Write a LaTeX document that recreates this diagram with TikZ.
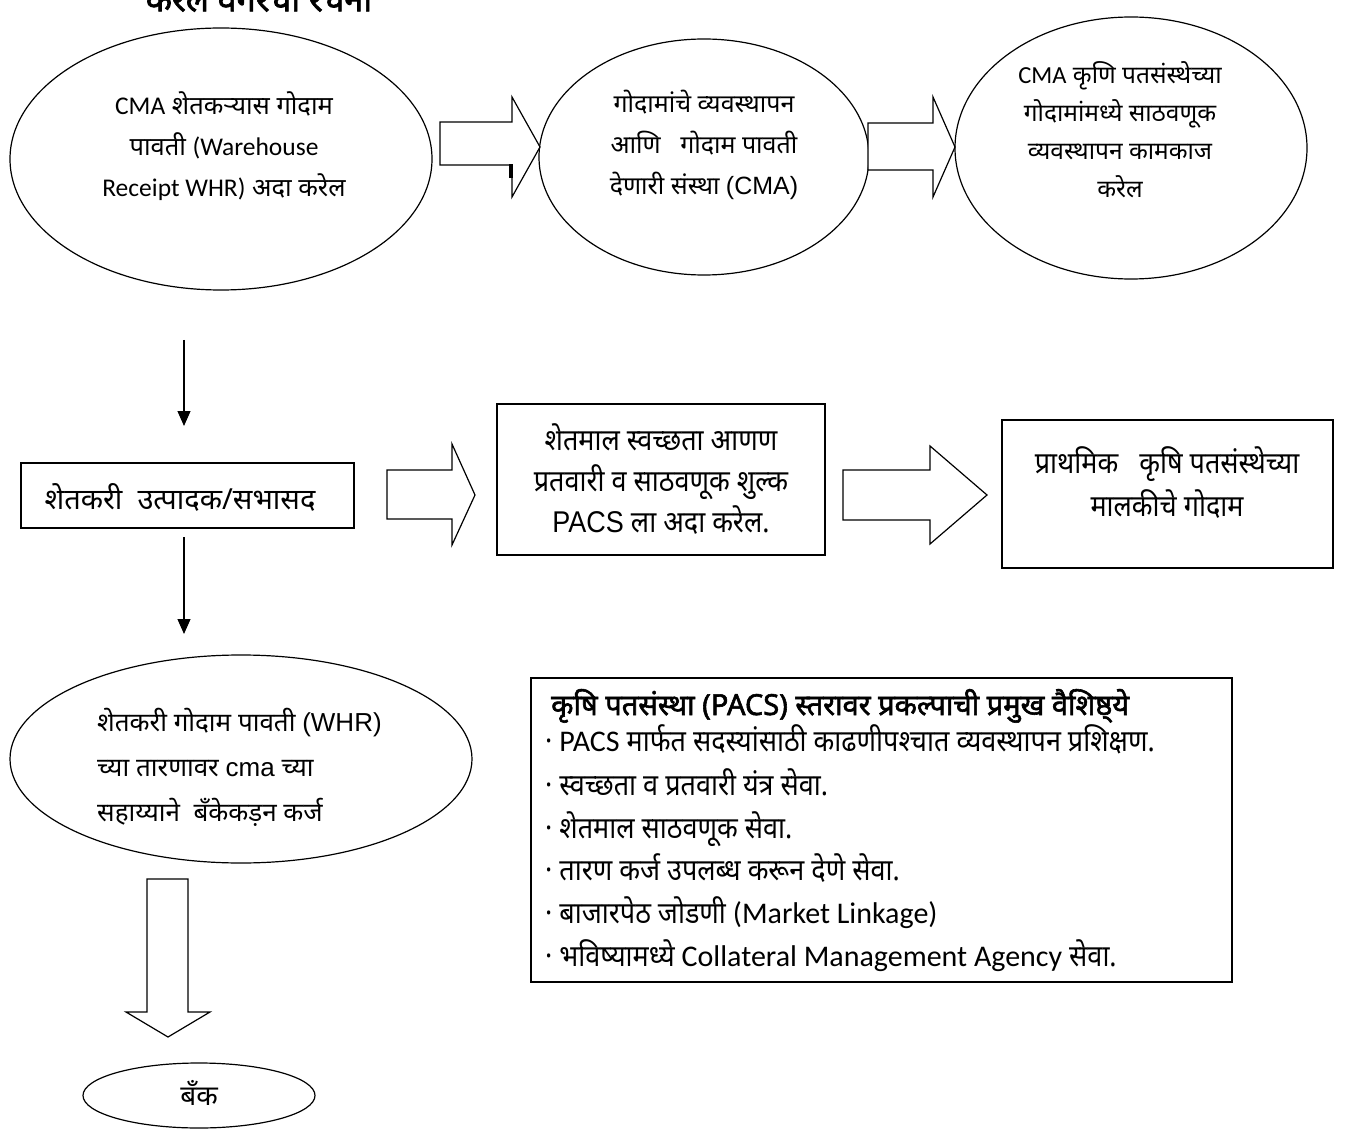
\documentclass[tikz,border=0pt]{standalone}
\usepackage{fontspec}
\usetikzlibrary{arrows.meta,shapes.geometric}
\newfontfamily\devfont[Script=Devanagari]{Noto Sans}
\newfontfamily\devbfont[Script=Devanagari,FakeBold=2]{Noto Sans}
\newfontfamily\devnfont[Script=Devanagari,FakeStretch=0.9]{Noto Sans}
\newfontfamily\calfont{Carlito}
\newfontfamily\arifont{Liberation Sans}
\newfontfamily\arinfont[FakeStretch=0.9]{Liberation Sans}
\begin{document}
\begin{tikzpicture}[x=1pt,y=-1pt,
  ell/.style={draw,ellipse,line width=1.2pt,inner sep=0pt},
  boxn/.style={draw,rectangle,line width=1.2pt,inner sep=0pt},
  blk/.style={draw,line width=1.2pt,fill=white,line join=miter},
  thinarrow/.style={line width=1.2pt,-{Triangle[width=13pt,length=15pt]}},
  txt/.style={align=center,inner sep=0pt,font=\devfont\fontsize{25}{41}\selectfont},
  ntxt/.style={align=center,inner sep=0pt,font=\devnfont\fontsize{30}{41}\selectfont},
  item/.style={anchor=west,inner sep=0pt,text height=20pt,text depth=0pt,font=\devnfont\fontsize{30}{34}\selectfont}]
\path[use as bounding box,clip] (0,0) rectangle (1349,1131);
\fill[white] (0,0) rectangle (1349,1131);

% cut-off heading at the top
\node[anchor=south,inner sep=0pt,font=\devbfont\fontsize{34}{36}\selectfont] (head) at (259,12) {करेल वगैरेची रचना};

% top row ellipses
\node[ell,minimum width=422pt,minimum height=262pt] (e1) at (221,159) {};
\node[txt,font=\devfont\fontsize{25.5}{41}\selectfont] (e1t) at (224,146) {{\calfont CMA} शेतकऱ्यास गोदाम\\पावती {\calfont (Warehouse}\\{\calfont Receipt WHR)} अदा करेल};

\node[ell,minimum width=330pt,minimum height=236pt] (e2) at (704,157) {};
\node[txt] (e2t) at (704,145) {गोदामांचे व्यवस्थापन\\आणि \ \ गोदाम पावती\\देणारी संस्था {\arifont (CMA)}};

\node[ell,minimum width=352pt,minimum height=262pt] (e3) at (1131,148) {};
\node[txt,font=\devfont\fontsize{24.5}{38}\selectfont] (e3t) at (1120,130) {{\calfont CMA} कृणि पतसंस्थेच्या\\गोदामांमध्ये साठवणूक\\व्यवस्थापन कामकाज\\करेल};

% block arrows, top row
\draw[blk] (440,122) -- (512,122) -- (512,97) -- (540,147) -- (512,197) -- (512,165) -- (440,165) -- cycle;
\fill (509,164) rectangle (513,178);
\draw[blk] (868,123) -- (933,123) -- (933,97) -- (955,147) -- (933,197) -- (933,170) -- (868,170) -- cycle;

% middle row
\coordinate (a1s) at (184,340);
\node[boxn,minimum width=333pt,minimum height=65pt] (b1) at (187.5,495.5) {};
\node[txt,font=\devfont\fontsize{29}{32}\selectfont] (b1t) at (180,497) {शेतकरी \ उत्पादक/सभासद};
\draw[thinarrow] (a1s) -- (184,426) coordinate (a1e);

\node[boxn,minimum width=328pt,minimum height=151pt] (b2) at (661,479.5) {};
\node[ntxt] (b2t) at (661,479) {शेतमाल स्वच्छता आणण\\प्रतवारी व साठवणूक शुल्क\\{\arinfont PACS} ला अदा करेल.};

\node[boxn,minimum width=331pt,minimum height=148pt] (b3) at (1167.5,494) {};
\node[ntxt,font=\devnfont\fontsize{30}{43}\selectfont] (b3t) at (1167,483) {प्राथमिक \ \ कृषि पतसंस्थेच्या\\मालकीचे गोदाम};

\draw[blk] (387,470) -- (452,470) -- (452,444) -- (475,495) -- (452,545) -- (452,519) -- (387,519) -- cycle;
\draw[blk] (843,470) -- (930,470) -- (930,446) -- (987,495) -- (930,544) -- (930,520) -- (843,520) -- cycle;

% lower left
\coordinate (a2s) at (184,537);
\draw[thinarrow] (a2s) -- (184,634) coordinate (a2e);

\node[ell,minimum width=462pt,minimum height=208pt] (e4) at (241,759) {};
\node[anchor=west,align=left,inner sep=0pt,font=\devfont\fontsize{26}{45}\selectfont] (e4t) at (97,767) {शेतकरी गोदाम पावती {\arifont (WHR)}\\च्या तारणावर {\arifont cma} च्या\\सहाय्याने \ बँकेकड़न कर्ज};

\draw[blk] (147,879) -- (188,879) -- (188,1012) -- (210,1012) -- (168,1037) -- (126,1012) -- (147,1012) -- cycle;

\node[ell,minimum width=232pt,minimum height=65pt] (bank) at (199,1095.5) {};
\node[txt,font=\devfont\fontsize{28}{30}\selectfont] (bankt) at (199,1093) {बँक};

% PACS features box
\node[boxn,minimum width=701pt,minimum height=304pt] (fb) at (881.5,830) {};
\node[item,font=\devbfont\fontsize{29}{34}\selectfont] (p0) at (551,705) {कृषि पतसंस्था (PACS) स्तरावर प्रकल्पाची प्रमुख वैशिष्ठ्ये};
\node[item] (p1) at (545,741) {· {\calfont PACS} मार्फत सदस्यांसाठी काढणीपश्चात व्यवस्थापन प्रशिक्षण.};
\node[item] (p2) at (545,785) {· स्वच्छता व प्रतवारी यंत्र सेवा.};
\node[item] (p3) at (545,828) {· शेतमाल साठवणूक सेवा.};
\node[item] (p4) at (545,870) {· तारण कर्ज उपलब्ध करून देणे सेवा.};
\node[item] (p5) at (545,913) {· बाजारपेठ जोडणी {\calfont (Market Linkage)}};
\node[item] (p6) at (545,956) {· भविष्यामध्ये {\calfont Collateral Management Agency} सेवा.};
\end{tikzpicture}
\end{document}
